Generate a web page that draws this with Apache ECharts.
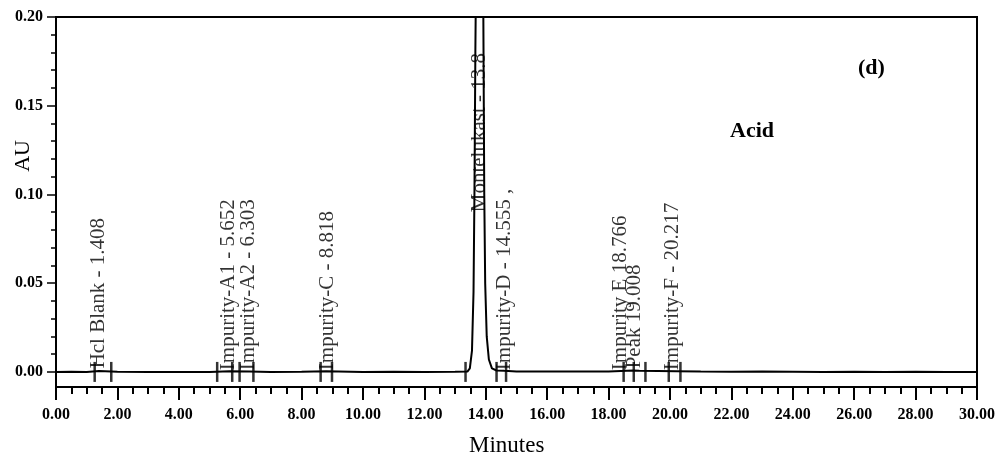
<!DOCTYPE html>
<html>
<head>
<meta charset="utf-8">
<script src="https://cdn.jsdelivr.net/npm/echarts@6/dist/echarts.min.js"></script>
<style>
html,body{margin:0;padding:0;background:#fff;}
#chart{width:998px;height:458px;}
</style>
</head>
<body>
<div id="chart"></div>
<script>
// Chromatogram trace (time in minutes, absorbance in AU)
const traceTimes = [0, 0.5, 1.0, 1.4, 2.0, 3.0, 4.0, 5.0, 5.65, 6.3, 7.0, 8.0, 8.8, 10.0, 11.0, 12.0, 13.0,
  13.40, 13.48, 13.55, 13.60, 13.63, 13.66, 13.70, 13.78, 13.86, 13.92, 13.95, 13.98, 14.03, 14.10, 14.20, 14.35,
  14.6, 15.0, 16.0, 17.0, 18.0, 18.8, 19.0, 20.2, 21, 22, 23, 24, 25, 26, 27, 28, 29, 30];
const traceAU = [0, 0.0001, 0, 0.0005, 0.0001, 0, -0.0001, 0, 0.0004, 0.0003, 0, 0.0001, 0.0004, 0, 0.0001, 0, 0.0001,
  0.0002, 0.002, 0.012, 0.045, 0.10, 0.18, 0.26, 0.30, 0.27, 0.20, 0.10, 0.05, 0.02, 0.007, 0.002, 0.0008,
  0.0006, 0.0003, 0.0002, 0.0002, 0.0003, 0.0008, 0.0006, 0.0004, 0.0002, 0.0001, 0.0002, 0.0001, 0, 0.0001, 0, 0.0001, 0, 0];

// Integration start/end markers on the baseline
const markerTimes = [1.26, 1.80, 5.25, 5.74, 5.98, 6.43, 8.62, 8.99, 13.34, 14.35, 14.66, 18.49, 18.82, 19.20, 19.96, 20.34];

// Peak labels
const peakLabels = ['Hcl Blank - 1.408', 'Impurity-A1 - 5.652', 'Impurity-A2 - 6.303', 'Impurity-C - 8.818',
  'Montelukast - 13.8', 'Impurity-D - 14.555 ,', 'Impurity E 18.766', 'Peak 19.008', 'Impurity-F - 20.217'];
const peakLabelTimes = [1.38, 5.63, 6.28, 8.83, 13.79, 14.62, 18.38, 18.84, 20.08];
const peakLabelAU = [0.002, 0.001, 0.001, 0.001, 0.09, 0.001, 0.001, 0.002, 0.001];

// Axis ticks
const xMin = 0, xMax = 30, xStep = 2;
const yTickValues = [0, 0.05, 0.10, 0.15, 0.20];
const yMinorTickValues = [0, 0.01, 0.02, 0.03, 0.04, 0.05, 0.06, 0.07, 0.08, 0.09, 0.10,
  0.11, 0.12, 0.13, 0.14, 0.15, 0.16, 0.17, 0.18, 0.19, 0.20];
const yMin = -0.0085, yMax = 0.20;

const serif = "'Liberation Serif', 'Times New Roman', serif";

const chart = echarts.init(document.getElementById('chart'));
chart.setOption({
  animation: false,
  backgroundColor: '#fff',
  grid: { left: 56, right: 21, top: 17, bottom: 71, show: true, borderColor: '#000', borderWidth: 2 },
  xAxis: {
    type: 'value', min: xMin, max: xMax, interval: xStep,
    axisLine: { show: true, onZero: false, lineStyle: { color: '#000', width: 2 } },
    axisTick: { show: true, inside: false, length: 13, lineStyle: { color: '#000', width: 2 } },
    minorTick: { show: true, splitNumber: 4, length: 7, lineStyle: { color: '#000', width: 2 } },
    splitLine: { show: false },
    minorSplitLine: { show: false },
    axisLabel: { formatter: v => v.toFixed(2), margin: 20, fontSize: 16, fontWeight: 'bold', color: '#000', fontFamily: serif }
  },
  yAxis: [
    {
      type: 'value', min: yMin, max: yMax,
      axisLine: { show: true, onZero: false, lineStyle: { color: '#000', width: 2 } },
      axisTick: { show: true, customValues: yMinorTickValues, length: 5, lineStyle: { color: '#000', width: 1.5 } },
      axisLabel: { show: false },
      splitLine: { show: false }
    },
    {
      type: 'value', min: yMin, max: yMax, position: 'left',
      axisLine: { show: false, onZero: false },
      axisTick: { show: true, customValues: yTickValues, length: 9, lineStyle: { color: '#000', width: 1.5 } },
      axisLabel: { customValues: yTickValues, formatter: v => v.toFixed(2), margin: 13, fontSize: 16, fontWeight: 'bold', color: '#000', fontFamily: serif },
      splitLine: { show: false }
    }
  ],
  series: [
    {
      type: 'line',
      data: traceTimes.map((t, i) => [t, traceAU[i]]),
      showSymbol: false,
      symbol: 'none',
      clip: true,
      lineStyle: { color: '#000', width: 2 },
      z: 3
    },
    {
      type: 'scatter',
      data: markerTimes.map(t => [t, 0]),
      symbol: 'rect',
      symbolSize: [2.5, 20],
      itemStyle: { color: '#000' },
      z: 4
    },
    {
      type: 'scatter',
      data: peakLabelTimes.map((t, i) => ({ value: [t, peakLabelAU[i]], name: peakLabels[i] })),
      symbolSize: 0,
      itemStyle: { color: 'rgba(0,0,0,0)' },
      label: {
        show: true,
        formatter: p => p.name,
        position: 'inside',
        rotate: 90,
        align: 'left',
        verticalAlign: 'middle',
        fontSize: 21,
        color: '#000',
        fontFamily: serif
      },
      z: 5
    }
  ],
  graphic: [
    { type: 'text', left: 12, top: 140, rotation: Math.PI / 2,
      style: { text: 'AU', fontSize: 22, fontFamily: serif, fill: '#000' } },
    { type: 'text', left: 469, top: 434,
      style: { text: 'Minutes', fontSize: 23, fontFamily: serif, fill: '#000' } },
    { type: 'text', left: 858, top: 57,
      style: { text: '(d)', fontSize: 22, fontWeight: 'bold', fontFamily: serif, fill: '#000' } },
    { type: 'text', left: 730, top: 120,
      style: { text: 'Acid', fontSize: 22, fontWeight: 'bold', fontFamily: serif, fill: '#000' } }
  ]
});
</script>
</body>
</html>
